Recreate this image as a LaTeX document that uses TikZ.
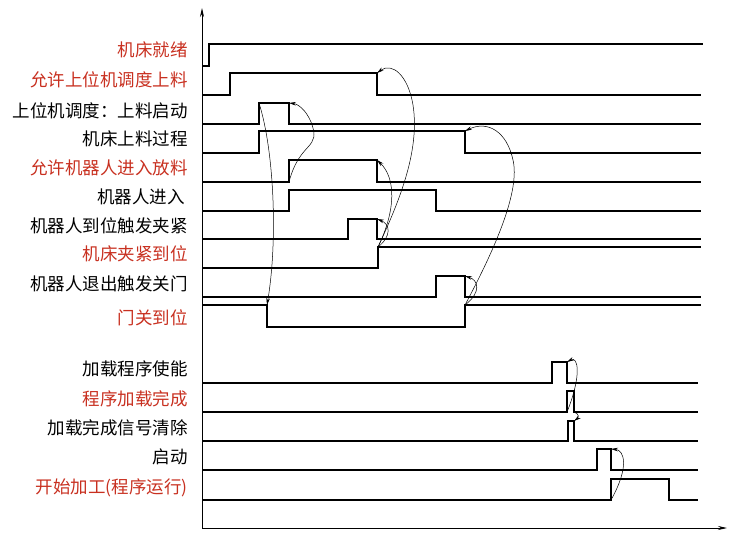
\documentclass[tikz,border=0pt]{standalone}
\usepackage{fontspec}
\newfontfamily\cjk{Noto Sans CJK SC}
\usetikzlibrary{arrows.meta}
\definecolor{sigred}{RGB}{200,48,32}

\begin{document}
\begin{tikzpicture}[
        x=1pt, y=-1pt,
        every node/.style={anchor=east, inner sep=0pt, font=\cjk\fontsize{17.5}{19}\selectfont},
        red/.style={text=sigred},
        sig/.style={line width=1.1pt, line join=miter},
        cause/.style={line width=0.5pt, -{Stealth[length=7pt, width=3.6pt]}},
        axis/.style={line width=0.8pt, -{Stealth[length=9pt, width=4pt]}}
    ]
    \useasboundingbox (0,0) rectangle (731,538);

    % Axes
    \coordinate (o) at (202,528);
    \coordinate (ytop) at (202,8);
    \coordinate (xend) at (727,528);
    \draw[axis] (o) -- (ytop);
    \draw[axis] (o) -- (xend);

    % Labels, upper group
    \node[red] (ready) at (188,50) {机床就绪};
    \node[red] (allowload) at (188,80) {允许上位机调度上料};
    \node (loadstart) at (188,111) {上位机调度：上料启动};
    \node (loading) at (188,139) {机床上料过程};
    \node[red] (allowrobot) at (188,168) {允许机器人进入放料};
    \node (robotin) at (185,197) {机器人进入};
    \node (robotpos) at (188,226) {机器人到位触发夹紧};
    \node[red] (clamped) at (188,254) {机床夹紧到位};
    \node (robotout) at (188,284) {机器人退出触发关门};
    \node[red] (doorshut) at (188,318) {门关到位};

    % Labels, lower group
    \node (progen) at (188,369) {加载程序使能};
    \node[red] (progdone) at (188,399) {程序加载完成};
    \node (doneclr) at (188,428) {加载完成信号清除};
    \node (start) at (188,457) {启动};
    \node[red] (running) at (188,488) {开始加工(程序运行)};

    % Signals, upper group
    \draw[sig] (202,66) -- (209,66) -- (209,44) -- (703,44);
    \draw[sig] (202,95) -- (230,95) -- (230,73) -- (377,73) coordinate (s2f) -- (377,95) -- (701,95);
    \draw[sig] (202,124) -- (259,124) -- (259,103) coordinate (s3r) -- (289,103) coordinate (s3f) -- (289,124) -- (701,124);
    \draw[sig] (202,153) -- (259,153) -- (259,131) -- (465,131) coordinate (s4f) -- (465,153) -- (701,153);
    \draw[sig] (202,182) -- (289,182) coordinate (s5r) -- (289,160) -- (377,160) coordinate (s5f) -- (377,182) -- (701,182);
    \draw[sig] (202,211) -- (289,211) -- (289,190) -- (436,190) -- (436,211) -- (701,211);
    \draw[sig] (202,239) -- (348,239) -- (348,219) -- (377,219) coordinate (s7f) -- (377,239) -- (701,239);
    \draw[sig] (202,268) -- (378,268) -- (378,247) coordinate (s8r) -- (701,247);
    \draw[sig] (202,297) -- (436,297) -- (436,276) -- (465,276) coordinate (s9f) -- (465,297) -- (701,297);
    \draw[sig] (202,305) -- (267,305) coordinate (s10f) -- (267,327) -- (465,327) -- (465,305) coordinate (s10r) -- (701,305);

    % Signals, lower group
    \draw[sig] (202,383) -- (552,383) -- (552,362) -- (567,362) coordinate (s11f) -- (567,383) -- (698,383);
    \draw[sig] (202,412) -- (567,412) coordinate (s12r) -- (567,391) -- (574,391) -- (574,412) coordinate (s12f) -- (698,412);
    \draw[sig] (202,441) -- (568,441) -- (568,421) -- (574,421) coordinate (s13f) -- (574,441) -- (698,441);
    \draw[sig] (202,470) -- (597,470) -- (597,449) -- (611,449) coordinate (s14f) -- (611,470) -- (698,470);
    \draw[sig] (202,500) -- (611,500) coordinate (s15r) -- (611,479) -- (669,479) -- (669,500) -- (698,500);

    % Cause arrows, upper group
    \draw[cause] (s3r) .. controls (274,150) and (278,240) .. (s10f);
    \draw[cause] (s5r) .. controls (300,140) and (322,150) .. (311,122) .. controls (306,110) and (298,104) .. (s3f);
    \draw[cause] (s8r) .. controls (400,200) and (420,150) .. (413,105) .. controls (408,75) and (392,62) .. (s2f);
    \draw[cause] (s8r) .. controls (396,210) and (396,178) .. (s5f);
    \draw[cause] (s8r) .. controls (392,236) and (390,224) .. (s7f);
    \draw[cause] (s10r) .. controls (497,245) and (520,190) .. (513,160) .. controls (507,132) and (488,120) .. (s4f);
    \draw[cause] (s10r) .. controls (482,292) and (478,280) .. (s9f);

    % Cause arrows, lower group
    \draw[cause] (s12r) .. controls (582,375) and (578,356) .. (s11f);
    \draw[cause] (s12f) .. controls (580,414) and (578,418) .. (s13f);
    \draw[cause] (s15r) .. controls (630,466) and (624,450) .. (s14f);

\end{tikzpicture}
\end{document}
